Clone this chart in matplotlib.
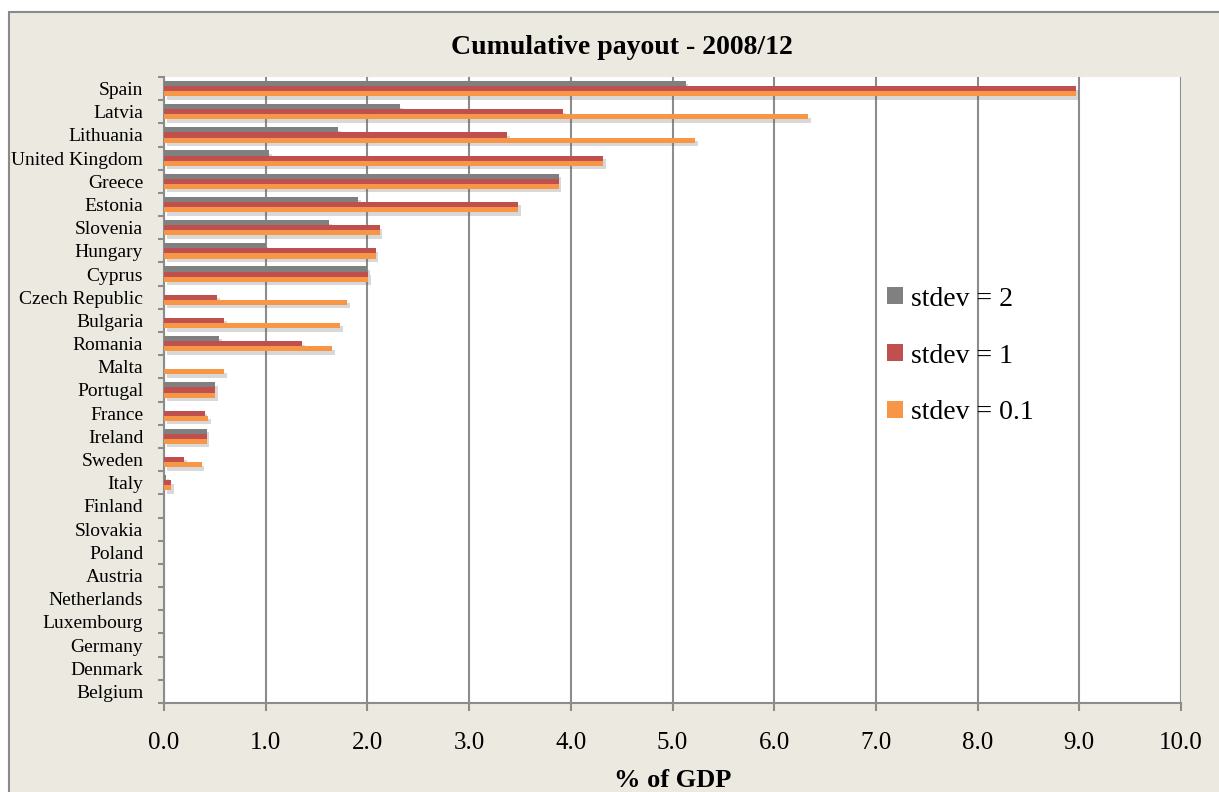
import numpy as np
import matplotlib
matplotlib.use('Agg')
import matplotlib.pyplot as plt
from matplotlib.patches import Rectangle
import matplotlib.patheffects as pe
from matplotlib.ticker import FixedLocator

#---Data---
countries = ['Spain', 'Latvia', 'Lithuania', 'United Kingdom', 'Greece', 'Estonia',
             'Slovenia', 'Hungary', 'Cyprus', 'Czech Republic', 'Bulgaria', 'Romania',
             'Malta', 'Portugal', 'France', 'Ireland', 'Sweden', 'Italy', 'Finland',
             'Slovakia', 'Poland', 'Austria', 'Netherlands', 'Luxembourg', 'Germany',
             'Denmark', 'Belgium']
stdev_2 = [5.13, 2.32, 1.71, 1.03, 3.88, 1.91, 1.62, 1.00, 2.00, 0.0, 0.0, 0.54,
           0.0, 0.50, 0.0, 0.42, 0.0, 0.02, 0, 0, 0, 0, 0, 0, 0, 0, 0]
stdev_1 = [8.97, 3.92, 3.37, 4.32, 3.88, 3.48, 2.12, 2.08, 2.01, 0.52, 0.59, 1.36,
           0.0, 0.50, 0.40, 0.42, 0.20, 0.07, 0, 0, 0, 0, 0, 0, 0, 0, 0]
stdev_01 = [8.97, 6.33, 5.22, 4.32, 3.88, 3.48, 2.12, 2.08, 2.01, 1.80, 1.73, 1.65,
            0.59, 0.50, 0.43, 0.42, 0.37, 0.07, 0, 0, 0, 0, 0, 0, 0, 0, 0]
series_labels = ['stdev = 2', 'stdev = 1', 'stdev = 0.1']
x_ticks = np.arange(0, 10.5, 1.0)

#---Style---
plt.rcParams['font.family'] = ['Liberation Serif', 'DejaVu Serif']
beige = '#ECEAE0'
gridc = '#8C8C8C'
colors = ['#808080', '#C0504D', '#F79646']

W, H = 1219, 792
fig = plt.figure(figsize=(W / 100, H / 100), dpi=100)
fig.patch.set_facecolor('white')
# outer chart frame
fig.patches.append(Rectangle((9 / W, -0.05), 1.1, 1 - 12 / H + 0.05, transform=fig.transFigure,
                             facecolor=beige, edgecolor='#8A8A8A', linewidth=1.5, zorder=0))

ax = fig.add_axes([164 / W, 1 - 703 / H, (1181 - 164) / W, (703 - 77) / H])
ax.set_zorder(2)
ax.set_facecolor('white')

y = np.arange(len(countries))
h = 0.22
shadow = [pe.SimplePatchShadow(offset=(2, -2.5), shadow_rgbFace='#666666', alpha=0.25), pe.Normal()]
for k, (vals, c, lab) in enumerate(zip([stdev_2, stdev_1, stdev_01], colors, series_labels)):
    bars = ax.barh(y + (k - 1) * h, vals, height=h, color=c, label=lab, zorder=3 + k, linewidth=0)
    for b in bars:
        if b.get_width() > 0:
            b.set_path_effects(shadow)

ax.set_xlim(0, 10)
ax.set_ylim(len(countries) - 0.5, -0.5)
ax.set_xticks(x_ticks)
ax.set_xticklabels(['%.1f' % v for v in x_ticks], fontsize=18)
ax.set_yticks(y)
ax.set_yticklabels(countries, fontsize=14)
ax.yaxis.set_minor_locator(FixedLocator(np.arange(-0.5, len(countries), 1.0)))
ax.tick_params(axis='y', which='major', length=0, pad=15)
ax.tick_params(axis='y', which='minor', length=4, width=1.5, color=gridc, direction='out')
ax.tick_params(axis='x', length=6, width=1.5, color=gridc, pad=15)
ax.grid(axis='x', color=gridc, linewidth=1.5, zorder=1)
ax.set_axisbelow(True)
for s in ['top', 'right']:
    ax.spines[s].set_visible(False)
for s in ['left', 'bottom']:
    ax.spines[s].set_color(gridc)
    ax.spines[s].set_linewidth(1.5)

ax.set_xlabel('% of GDP', fontsize=19, fontweight='bold', labelpad=11)
fig.text(622 / W, 1 - 47 / H, 'Cumulative payout - 2008/12', fontsize=20,
         fontweight='bold', ha='center', va='center')

leg = ax.legend(loc='center left', bbox_to_anchor=(887 / W, 1 - 356 / H), bbox_transform=fig.transFigure,
                frameon=False, fontsize=20, handlelength=0.57, handleheight=0.57, handletextpad=0.3,
                labelspacing=1.15, borderpad=0, borderaxespad=0)
for hd in leg.legend_handles:
    hd.set_path_effects([])

plt.savefig('out.png', dpi=100, facecolor=fig.get_facecolor())
